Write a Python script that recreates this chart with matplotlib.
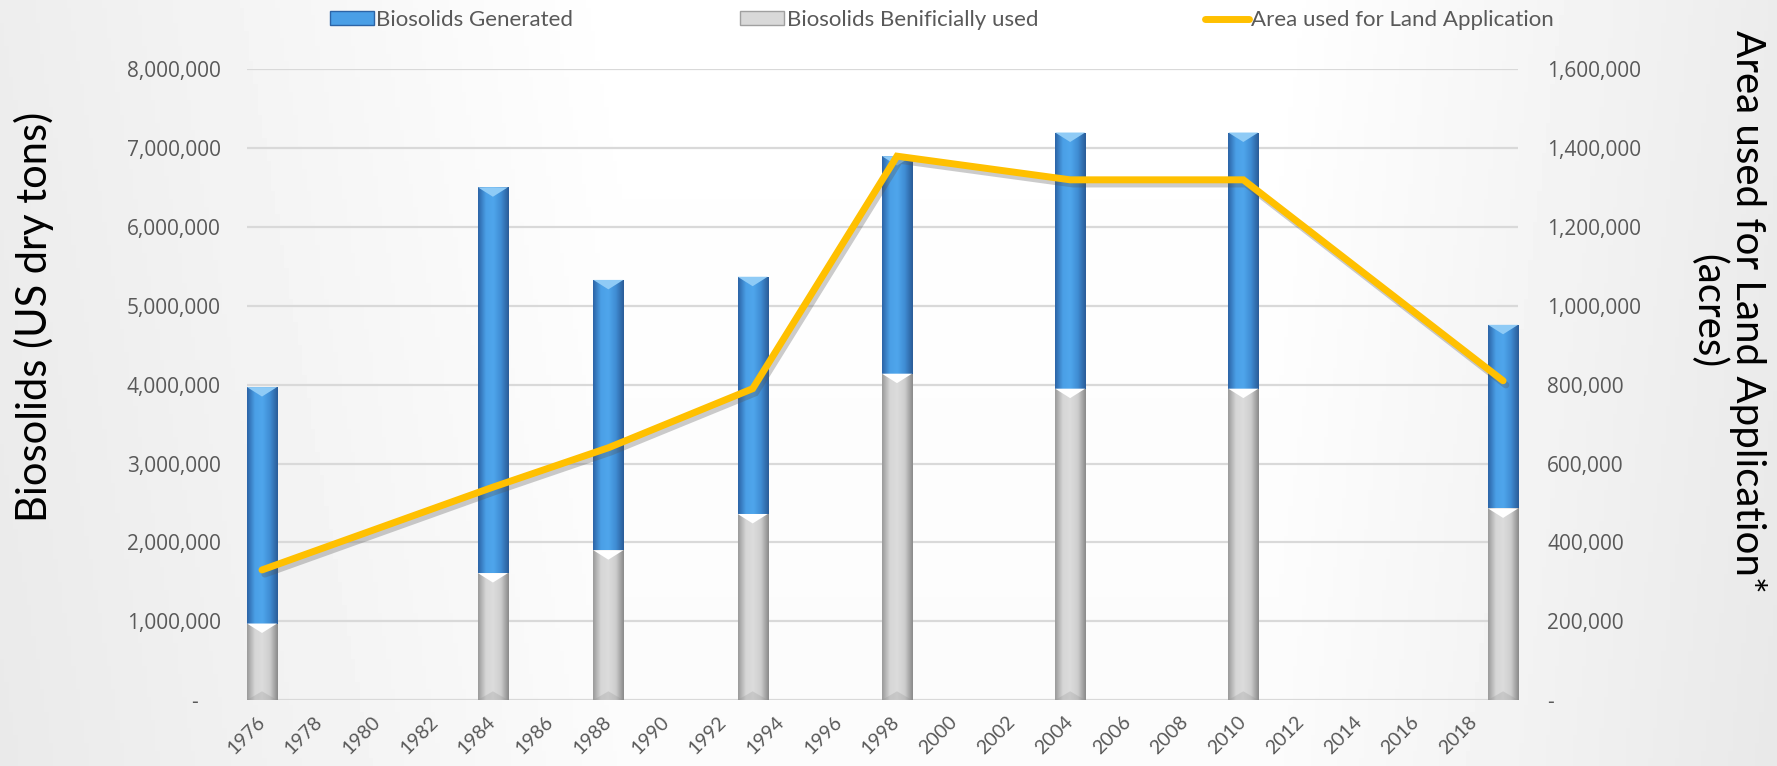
import numpy as np
import matplotlib.pyplot as plt
import matplotlib.patheffects as pe
from matplotlib.colors import LinearSegmentedColormap
from matplotlib.patches import Patch
from matplotlib.lines import Line2D
from matplotlib.ticker import FuncFormatter


# 数据
years = [1976, 1984, 1988, 1993, 1998, 2004, 2010, 2019]
generated = [3970000, 6505000, 5330000, 5370000, 6900000, 7200000, 7200000, 4760000]
beneficial = [970000, 1610000, 1900000, 2360000, 4140000, 3950000, 3950000, 2430000]
area = [330000, 540000, 640000, 790000, 1380000, 1320000, 1320000, 810000]
xtick_years = list(range(1976, 2019, 2))

plt.rcParams['font.family'] = ['Lato', 'DejaVu Sans']
TXT = '#595959'
W = 1.04  # bar width in years


def fmt_num(v, pos, dash='-'):
    if abs(v) < 1:
        return dash
    return '{:,}'.format(int(round(v)))


# 渐变柱子
def grad_bars(ax, x, h, cols, z, top_col, bot_col):
    cmap = LinearSegmentedColormap.from_list('g', cols)
    bars = ax.bar(x, h, width=W, color='none', edgecolor='none', zorder=z)
    g = np.linspace(0, 1, 64).reshape(1, -1)
    for b in bars:
        x0, y0 = b.get_x(), b.get_y()
        im = ax.imshow(g, cmap=cmap, aspect='auto', interpolation='bicubic',
                       extent=[x0, x0 + b.get_width(), y0, y0 + b.get_height()], zorder=z)
        im.set_clip_path(b)
        xc = x0 + b.get_width() / 2
        top = y0 + b.get_height()
        # bevel on top and bottom
        ax.fill([x0, x0 + b.get_width(), xc], [top, top, top - 120000],
                color=top_col, zorder=z + 0.1, lw=0)
        ax.fill([x0, x0 + b.get_width(), xc], [0, 0, 110000],
                color=bot_col, zorder=z + 0.1, lw=0, alpha=0.25)
    return bars


fig = plt.figure(figsize=(17.77, 7.66), dpi=100)

# background
bg = fig.add_axes([0, 0, 1, 1], zorder=-10)
gx = np.interp(np.linspace(0, 1, 400), [0, 0.35, 0.72, 1], [0.93, 1.0, 1.0, 0.925])
gy = np.interp(np.linspace(0, 1, 100), [0, 1], [1.0, 0.985])
bg.imshow(gy[:, None] * gx[None, :], cmap='gray', vmin=0, vmax=1, aspect='auto',
          extent=[0, 1, 0, 1])
bg.axis('off')

ax = fig.add_axes([0.139, 0.0862, 0.7153, 0.8231])
ax.patch.set_alpha(0)

grad_bars(ax, years, generated,
          ['#2C64A6', '#4A9FE6', '#4FA6EC', '#3F8CD3', '#2A5C98'], 2,
          '#8FCBF6', '#2A5C98')
grad_bars(ax, years, beneficial,
          ['#9A9A9A', '#D6D6D6', '#DCDCDC', '#CDCDCD', '#8A8A8A'], 3,
          '#FFFFFF', '#909090')

ax.set_xlim(years[0] - W / 2, years[-1] + W / 2)
ax.set_ylim(0, 8000000)
ax.set_yticks(np.arange(0, 8000001, 1000000))
ax.yaxis.set_major_formatter(FuncFormatter(lambda v, p: fmt_num(v, p, '-    ')))
ax.set_xticks(xtick_years)
ax.set_xticklabels([str(y) for y in xtick_years], rotation=45, ha='right',
                   va='center', rotation_mode='anchor', fontsize=14, color=TXT)
ax.tick_params(axis='x', length=0, pad=14)
ax.tick_params(axis='y', length=0, pad=19, labelsize=15, labelcolor=TXT)
for lab in ax.get_yticklabels():
    lab.set_family(['Open Sans', 'DejaVu Sans'])
ax.set_axisbelow(True)
ax.yaxis.grid(True, color='#D9D9D9', lw=1.6)
for s in ax.spines.values():
    s.set_visible(False)

# 面积折线
ax2 = ax.twinx()
ax2.patch.set_visible(False)
ax2.plot(years, area, color='#FFC000', lw=5, solid_capstyle='round',
         solid_joinstyle='miter', zorder=5,
         path_effects=[pe.SimpleLineShadow(offset=(2, -3), shadow_color='#555555', alpha=0.3),
                       pe.Normal()])
ax2.set_ylim(0, 1600000)
ax2.set_yticks(np.arange(0, 1600001, 200000))
ax2.yaxis.set_major_formatter(FuncFormatter(fmt_num))
ax2.tick_params(axis='y', length=0, pad=21, labelsize=15, labelcolor=TXT)
for lab in ax2.get_yticklabels():
    lab.set_family(['Open Sans', 'DejaVu Sans'])
for s in ax2.spines.values():
    s.set_visible(False)

# 轴标题
fig.text(0.019, 0.586, 'Biosolids (US dry tons)', rotation=90, ha='center',
         va='center', fontsize=30, color='black')
fig.text(0.9725, 0.594, 'Area used for Land Application*\n(acres)', rotation=270,
         ha='center', va='center', multialignment='center', fontsize=29,
         color='black', linespacing=1.05)

# 图例
handles = [Patch(facecolor='#4A9FE6', edgecolor='#2C64A6'),
           Patch(facecolor='#D9D9D9', edgecolor='#A0A0A0'),
           Line2D([0], [0], color='#FFC000', lw=5, solid_capstyle='round')]
labels = ['Biosolids Generated', 'Biosolids Benificially used', 'Area used for Land Application']
fig.legend(handles, labels, loc='center', bbox_to_anchor=(0.53, 0.974), ncol=3,
           frameon=False, fontsize=16, handlelength=2.0, handleheight=0.55,
           handletextpad=0.1, columnspacing=7.5, labelcolor=TXT)

fig.savefig('out.png', dpi=100)
